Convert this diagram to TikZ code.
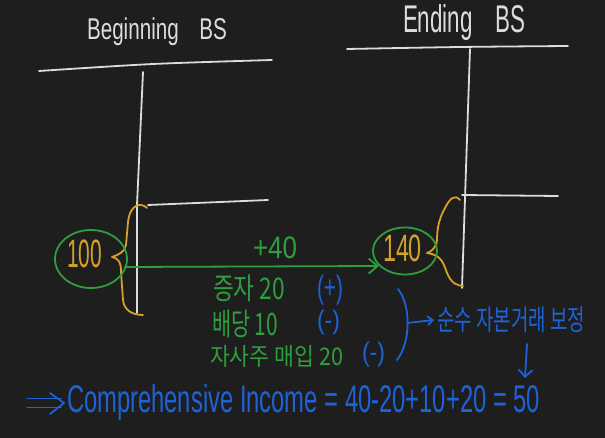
\documentclass[tikz,border=0pt]{standalone}
\usepackage{fontspec}
\usepackage{graphicx}
\setmainfont{Liberation Sans}
\newfontfamily\krfont{Noto Sans CJK KR}
\usetikzlibrary{arrows.meta,shapes.geometric}
\definecolor{bgc}{HTML}{1E1E1E}
\definecolor{hwgreen}{HTML}{2F9E3F}
\definecolor{hworange}{HTML}{D4A12A}
\definecolor{hwblue}{HTML}{1D62D6}
\definecolor{hwwhite}{HTML}{DCDCDC}
\newcommand\fitw[3]{\resizebox*{#1pt}{#2pt}{#3}}
\begin{document}
\begin{tikzpicture}[x=1pt,y=-1pt,
  pen/.style={line width=1.8pt,line cap=round,line join=round},
  wline/.style={pen,draw=hwwhite},
  gline/.style={pen,draw=hwgreen},
  oline/.style={pen,draw=hworange},
  bline/.style={pen,draw=hwblue},
  lbl/.style={inner sep=0pt,outer sep=0pt,anchor=west},
  wtxt/.style={lbl,text=hwwhite},
  gtxt/.style={lbl,text=hwgreen},
  otxt/.style={lbl,text=hworange},
  btxt/.style={lbl,text=hwblue},
  blob/.style={ellipse,draw=hwgreen,pen,inner sep=0pt},
  barb/.style={-{Straight Barb[length=9pt,width=15pt]}}
]
\fill[bgc] (0,0) rectangle (605,438);
\useasboundingbox (0,0) rectangle (605,438);

% titles
\node[wtxt] (tbeg) at (87,32) {\fitw{140}{28}{Beginning\quad BS}};
\node[wtxt] (tend) at (403,23) {\fitw{122}{36}{Ending\quad BS}};

% left T-account
\draw[wline] plot[smooth] coordinates {(39,71) (153,64) (272,60)};
\draw[wline] (143,72) -- (137,205) -- (137,313);
\draw[wline] (148,205) -- (268,200);

% right T-account
\draw[wline] plot[smooth] coordinates {(347,49) (460,47) (568,46)};
\draw[wline] (470,49) -- (462,288);
\draw[wline] (462,195) -- (558,196);

% braces
\draw[oline] (147,208) .. controls (141,202) and (130,204) .. (128,222) -- (126,245)
  .. controls (125,252) and (118,255) .. (112,257) .. controls (119,259) and (121,262) .. (121,272)
  -- (123,300) .. controls (124,310) and (132,315) .. (143,315);
\draw[oline] (460,200) .. controls (455,194) and (450,198) .. (445,208)
  .. controls (438,220) and (437,232) .. (437,240) .. controls (436,248) and (432,251) .. (427,253)
  .. controls (434,254) and (440,256) .. (444,265) .. controls (448,275) and (450,285) .. (463,286);

% amounts
\node[blob,minimum width=72pt,minimum height=58pt] (e100) at (91,259) {};
\node[otxt] (v100) at (67,254) {\fitw{35}{28}{100}};
\node[blob,minimum width=64pt,minimum height=47pt] (e140) at (405,251) {};
\node[otxt] (v140) at (383,248.5) {\fitw{39}{27}{140}};

\coordinate (astart) at (125,267);
\draw[gline,barb] (astart) -- (e140.210);
\node[gtxt] (plus40) at (253,247.5) {\fitw{44}{22}{+40}};

% capital transactions
\node[gtxt] (c1) at (213,288.5) {\fitw{72}{27}{\krfont 증자 20}};
\node[btxt] (s1) at (317,290) {\fitw{26}{30}{(+)}};
\node[gtxt] (c2) at (212,324) {\fitw{66}{28}{\krfont 배당 10}};
\node[btxt] (s2) at (317,322.5) {\fitw{23}{25}{(-)}};
\node[gtxt] (c3) at (210,356) {\fitw{133}{22}{\krfont 자사주 매입 20}};
\node[btxt] (s3) at (362,354.5) {\fitw{23}{25}{(-)}};

\draw[bline] (398,289) .. controls (411,305) and (411,342) .. (397,360);
\coordinate (bmid) at (407,323);
\node[btxt] (adj) at (437,320) {\fitw{148}{26}{\krfont 순수 자본거래 보정}};
\draw[bline,-{Straight Barb[length=5pt,width=9pt]}] (bmid) -- ([xshift=-3pt]adj.west);

\coordinate (d1) at (527,344);
\coordinate (d2) at (525,378);
\draw[bline,-{Straight Barb[length=7pt,width=14pt]}] (d1) -- (d2);

% comprehensive income
\node[btxt] (ci) at (67,403) {\fitw{473}{36}{Comprehensive Income = 40-20+10+20 = 50}};
\coordinate (dstart) at (27,403);
\draw[bline] ([yshift=-4.5pt]dstart) -- ([xshift=-6pt,yshift=-4.5pt]ci.west);
\draw[bline] ([yshift=4.5pt]dstart) -- ([xshift=-6pt,yshift=4.5pt]ci.west);
\draw[bline] ([xshift=-17pt,yshift=-11pt]ci.west) -- ([xshift=-3pt]ci.west) -- ([xshift=-17pt,yshift=10pt]ci.west);
\end{tikzpicture}
\end{document}
